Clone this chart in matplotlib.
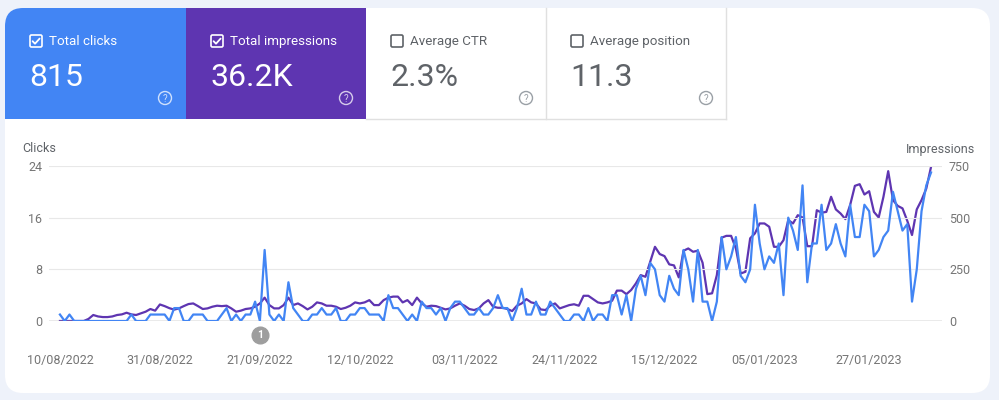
import matplotlib
matplotlib.use("Agg")
import matplotlib.pyplot as plt
import matplotlib.dates as mdates
from matplotlib.patches import FancyBboxPatch, Rectangle, Circle
from matplotlib.transforms import blended_transform_factory
import pandas as pd
import numpy as np

plt.rcParams['font.family'] = ['Roboto', 'DejaVu Sans']

# ---------------- data ----------------
start_date = "2022-08-10"
clicks = [1, 0, 1, 0, 0, 0, 0, 0, 0, 0, 0, 0, 0, 0, 0, 1, 0, 0, 0, 1,
          1, 1, 1, 0, 2, 2, 0, 0, 1, 1, 1, 0, 0, 0, 1, 2, 0, 1, 0, 1,
          1, 3, 0, 11, 1, 0, 1, 0, 6, 2, 1, 0, 0, 1, 1, 2, 1, 1, 2, 0,
          0, 1, 1, 2, 2, 1, 1, 1, 0, 4, 2, 2, 1, 0, 1, 0, 3, 2, 2, 1,
          2, 0, 2, 3, 3, 2, 1, 1, 2, 1, 1, 2, 4, 2, 2, 0, 2, 5, 1, 1,
          3, 1, 1, 3, 2, 1, 0, 0, 1, 1, 0, 2, 0, 1, 1, 0, 4, 4, 1, 4,
          0, 5, 7, 4, 9, 8, 4, 3, 7, 5, 4, 11, 8, 3, 11, 3, 3, 0, 3, 13,
          8, 10, 13, 7, 6, 8, 18, 12, 8, 10, 9, 12, 4, 16, 14, 11, 21, 6, 12, 12,
          18, 11, 12, 15, 12, 10, 18, 13, 13, 18, 17, 10, 11, 13, 14, 20, 17, 14, 15, 3,
          8, 17, 21, 23]
impressions = [0, 0, 0, 0, 0, 0,
               10, 29, 22, 19, 19, 22, 29, 32, 40, 32, 29, 37, 45, 58, 50, 80, 72, 62, 55, 61,
               72, 82, 85, 72, 58, 61, 69, 74, 72, 74, 61, 45, 50, 58, 61, 69, 85, 113, 77,
               61, 61, 77, 113, 77, 85, 72, 56, 69, 90, 85, 74, 74, 69, 58, 64, 74, 90, 85, 90,
               101, 77, 77, 101, 113, 118, 118, 90, 101, 77, 113, 85, 69, 74, 72, 64, 56, 61, 74, 85,
               74, 58, 53, 61,
               85, 101, 69, 64, 64, 58, 48, 74, 85, 106, 90, 85, 56, 53, 74, 85, 61, 69, 77, 81,
               74, 122, 122, 106, 90, 85, 90, 98, 147, 147, 130,
               150, 182, 222, 214, 287, 359, 324, 314, 274, 269, 211, 340, 351, 335, 340, 282, 130, 134, 222, 403,
               412, 412, 351, 230, 238, 400, 424, 472, 472, 456, 359, 359, 391,
               488, 472, 512, 501, 362, 362, 536, 524, 528, 601, 540, 520, 493, 561, 654, 662, 612, 628, 528, 501,
               601, 725, 585, 557, 545, 485, 416, 540, 585, 641, 746]
date_ticks = ["10/08/2022", "31/08/2022", "21/09/2022", "12/10/2022", "03/11/2022",
              "24/11/2022", "15/12/2022", "05/01/2023", "27/01/2023"]
click_ticks = [0, 8, 16, 24]
impression_ticks = [0, 250, 500, 750]
annotation_date = "21/09/2022"
annotation_label = "1"

cards = [
    ("Total clicks", "815", True),
    ("Total impressions", "36.2K", True),
    ("Average CTR", "2.3%", False),
    ("Average position", "11.3", False),
]

# ---------------- figure ----------------
W, H = 999, 400
fig = plt.figure(figsize=(W / 100, H / 100), dpi=100)
fig.patch.set_facecolor("#eef2fa")

bg = fig.add_axes([0, 0, 1, 1], zorder=0)
bg.set_xlim(0, W)
bg.set_ylim(H, 0)
bg.axis("off")

# white card
bg.add_patch(FancyBboxPatch((5, 8), 985, 385, boxstyle="round,pad=0,rounding_size=18",
                            facecolor="white", edgecolor="none"))

BLUE = "#4285f4"
PURPLE = "#5e35b1"
GRAY_TXT = "#5f6368"
tile_colors = [BLUE, PURPLE, "white", "white"]
tile_x = [5, 186, 366, 546]
tile_w = [181, 180, 180, 180]

# blue tile with rounded top-left corner
bg.add_patch(FancyBboxPatch((5, 8), 181, 111, boxstyle="round,pad=0,rounding_size=18",
                            facecolor=BLUE, edgecolor="none"))
bg.add_patch(Rectangle((60, 8), 126, 111, facecolor=BLUE, edgecolor="none"))
bg.add_patch(Rectangle((5, 60), 181, 59, facecolor=BLUE, edgecolor="none"))
bg.add_patch(Rectangle((186, 8), 180, 111, facecolor=PURPLE, edgecolor="none"))
# borders of white tiles
bg.plot([546, 546], [8, 119], color="#e0e0e0", lw=1)
bg.plot([726, 726], [8, 119], color="#e0e0e0", lw=1)
bg.plot([366, 726], [119, 119], color="#e0e0e0", lw=1)

for k, (label, value, checked) in enumerate(cards):
    x0 = tile_x[k]
    fg = "white" if checked else GRAY_TXT
    # checkbox
    cx, cy = x0 + 25, 35
    bg.add_patch(FancyBboxPatch((cx, cy), 12, 12, boxstyle="round,pad=0,rounding_size=1.5",
                                facecolor="none", edgecolor=fg, lw=1.2))
    if checked:
        bg.plot([cx + 2.6, cx + 5.0, cx + 9.6], [cy + 6.2, cy + 8.7, cy + 3.6],
                color=fg, lw=1.3, solid_capstyle="round", solid_joinstyle="round")
    bg.text(x0 + 44, 41.5, label, color=fg, fontsize=9.6, va="center", ha="left")
    bg.text(x0 + 24, 77, value, color=fg, fontsize=23, va="center", ha="left")
    # help icon
    icol = (1, 1, 1, 0.75) if checked else "#9aa0a6"
    bg.add_patch(Circle((x0 + 160, 98), 6.5, facecolor="none", edgecolor=icol, lw=1.0))
    bg.text(x0 + 160, 98.5, "?", color=icol, fontsize=7, va="center", ha="center")

# axis titles
bg.text(22, 149, "Clicks", color=GRAY_TXT, fontsize=9, va="center", ha="left")
bg.text(975, 149, "Impressions", color=GRAY_TXT, fontsize=9, va="center", ha="right")

# ---------------- chart ----------------
dates = pd.date_range(start_date, periods=len(clicks), freq="D")
left, right, top, bottom = 49, 942, 166, 321
ax = fig.add_axes([left / W, 1 - bottom / H, (right - left) / W, (bottom - top) / H], zorder=2)
ax2 = ax.twinx()
ax.set_zorder(ax2.get_zorder() + 1)
ax.patch.set_visible(False)
ax2.patch.set_visible(False)

ax2.plot(dates, impressions, color=PURPLE, lw=1.6, solid_joinstyle="round")
ax.plot(dates, clicks, color=BLUE, lw=1.6, solid_joinstyle="round")

d0 = dates[0]
ax.set_xlim(d0 - pd.Timedelta(days=2.3), d0 + pd.Timedelta(days=185.3))
ax.set_ylim(0, 24)
ax2.set_ylim(0, 750)

ax.set_yticks(click_ticks)
ax2.set_yticks(impression_ticks)
tick_dates = pd.to_datetime(date_ticks, format="%d/%m/%Y")
ax.set_xticks(tick_dates)
ax.set_xticklabels(date_ticks)

TICK_COL = "#757575"
ax.tick_params(axis="x", length=0, pad=24, labelsize=9, labelcolor=TICK_COL)
ax.tick_params(axis="y", length=0, pad=5, labelsize=9, labelcolor=TICK_COL)
ax2.tick_params(axis="y", length=0, pad=5, labelsize=9, labelcolor=TICK_COL)

for a in (ax, ax2):
    for s in a.spines.values():
        s.set_visible(False)
ax.grid(axis="y", color="#e8e8e8", lw=0.8)
ax.set_axisbelow(True)
ax.axhline(0, color="#9e9e9e", lw=1.0, zorder=1)

# annotation marker
trans = blended_transform_factory(ax.transData, ax.transAxes)
ax_x = mdates.date2num(pd.to_datetime(annotation_date, format="%d/%m/%Y"))
ax.plot([ax_x], [-0.09], "o", ms=12, color="#9e9e9e", transform=trans, clip_on=False)
ax.text(ax_x, -0.09, annotation_label, color="white", fontsize=7.5, fontweight="bold",
        ha="center", va="center", transform=trans)

fig.savefig("out.png", dpi=100, facecolor=fig.get_facecolor())
